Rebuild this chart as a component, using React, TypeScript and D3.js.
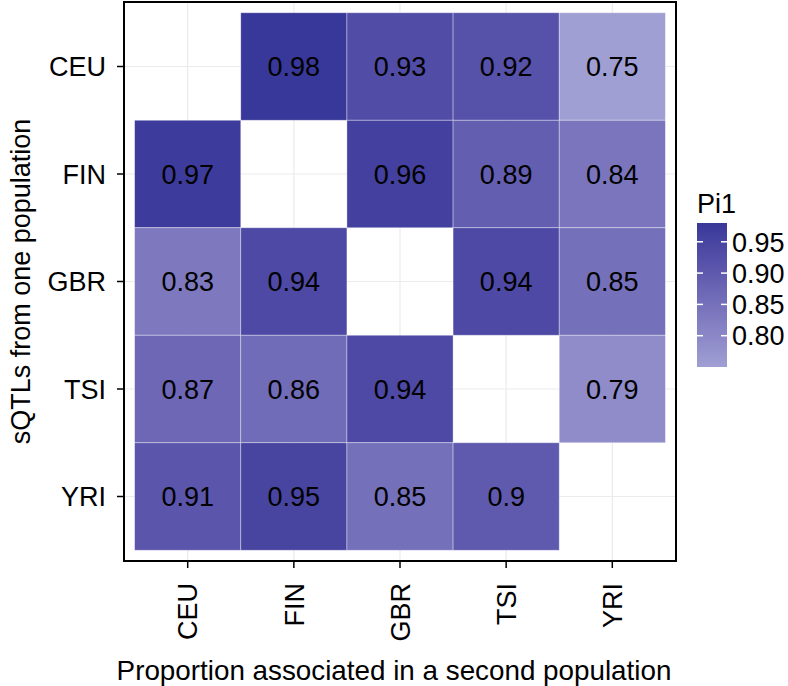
import React from 'react';
import * as d3 from 'd3';

const rows = ['CEU', 'FIN', 'GBR', 'TSI', 'YRI'];
const cols = ['CEU', 'FIN', 'GBR', 'TSI', 'YRI'];
// pi1 values: row = population where sQTL found, col = second population
const pi1: (number | null)[][] = [
  [null, 0.98, 0.93, 0.92, 0.75],
  [0.97, null, 0.96, 0.89, 0.84],
  [0.83, 0.94, null, 0.94, 0.85],
  [0.87, 0.86, 0.94, null, 0.79],
  [0.91, 0.95, 0.85, 0.9, null],
];
const legendTicks = [0.8, 0.85, 0.9, 0.95];
const fillRange: [number, number] = [0.75, 0.98];

const W = 788;
const H = 686;
const FONT = '"Liberation Sans", Arial, Helvetica, sans-serif';
const FS = 27;

const App: React.FC = () => {
  const panel = { left: 124, right: 676, top: 2, bottom: 561 };

  const x = d3.scaleBand<string>().domain(cols).range([panel.left, panel.right]).paddingInner(0).paddingOuter(0.1);
  const y = d3.scaleBand<string>().domain(rows).range([panel.top, panel.bottom]).paddingInner(0).paddingOuter(0.1);

  const color = d3.scaleLinear<string>()
    .domain(fillRange)
    .range(['#a09fd3', '#38389a'])
    .interpolate(d3.interpolateLab);

  const cells = pi1.flatMap((r, i) =>
    r.map((v, j) => ({ row: rows[i], col: cols[j], v })).filter((c) => c.v !== null)
  ) as { row: string; col: string; v: number }[];

  // legend
  const leg = { x: 697, top: 223, bottom: 367, width: 30 };
  const ly = d3.scaleLinear().domain(fillRange).range([leg.bottom, leg.top]);
  const stops = d3.range(0, 1.0001, 0.1);

  return (
    <svg width={W} height={H} style={{ position: 'absolute', left: 0, top: 0 }} fontFamily={FONT}>
      <defs>
        <linearGradient id="pi1grad" x1="0" y1="1" x2="0" y2="0">
          {stops.map((t) => (
            <stop key={t} offset={t} stopColor={color(fillRange[0] + t * (fillRange[1] - fillRange[0]))} />
          ))}
        </linearGradient>
      </defs>
      <rect x={0} y={0} width={W} height={H} fill="#fff" />

      {/* grid */}
      {cols.map((c) => (
        <line key={'gx' + c} x1={x(c)! + x.bandwidth() / 2} x2={x(c)! + x.bandwidth() / 2}
          y1={panel.top} y2={panel.bottom} stroke="#ebebeb" strokeWidth={1.2} />
      ))}
      {rows.map((r) => (
        <line key={'gy' + r} y1={y(r)! + y.bandwidth() / 2} y2={y(r)! + y.bandwidth() / 2}
          x1={panel.left} x2={panel.right} stroke="#ebebeb" strokeWidth={1.2} />
      ))}

      {/* tiles */}
      {cells.map((c) => (
        <g key={c.row + c.col}>
          <rect x={x(c.col)} y={y(c.row)} width={x.bandwidth()} height={y.bandwidth()}
            fill={color(c.v)} stroke="#ffffff" strokeOpacity={0.45} strokeWidth={0.8} />
          <text x={x(c.col)! + x.bandwidth() / 2} y={y(c.row)! + y.bandwidth() / 2}
            dy="0.36em" textAnchor="middle" fontSize={FS} fill="#000">{String(c.v)}</text>
        </g>
      ))}

      {/* panel border */}
      <rect x={panel.left} y={panel.top} width={panel.right - panel.left} height={panel.bottom - panel.top}
        fill="none" stroke="#000" strokeWidth={2} />

      {/* y axis */}
      {rows.map((r) => {
        const cy = y(r)! + y.bandwidth() / 2;
        return (
          <g key={'ty' + r}>
            <line x1={panel.left - 7} x2={panel.left} y1={cy} y2={cy} stroke="#000" strokeWidth={1.5} />
            <text x={panel.left - 18} y={cy} dy="0.36em" textAnchor="end" fontSize={FS} fill="#000">{r}</text>
          </g>
        );
      })}
      <text transform={`translate(30,${(panel.top + panel.bottom) / 2}) rotate(-90)`} textAnchor="middle"
        fontSize={FS} fill="#000">sQTLs from one population</text>

      {/* x axis */}
      {cols.map((c) => {
        const cx = x(c)! + x.bandwidth() / 2;
        return (
          <g key={'tx' + c}>
            <line x1={cx} x2={cx} y1={panel.bottom} y2={panel.bottom + 7} stroke="#000" strokeWidth={1.5} />
            <text transform={`translate(${cx},${panel.bottom + 22}) rotate(-90)`} dy="0.36em" textAnchor="end"
              fontSize={FS} fill="#000">{c}</text>
          </g>
        );
      })}
      <text x={(panel.left + panel.right) / 2 - 6} y={680} textAnchor="middle" fontSize={27.8} fill="#000">
        Proportion associated in a second population
      </text>

      {/* legend */}
      <text x={leg.x} y={213} fontSize={FS} fill="#000">Pi1</text>
      <rect x={leg.x} y={leg.top} width={leg.width} height={leg.bottom - leg.top} fill="url(#pi1grad)" />
      {legendTicks.map((t) => (
        <g key={'lt' + t}>
          <line x1={leg.x} x2={leg.x + 6} y1={ly(t)} y2={ly(t)} stroke="#fff" strokeWidth={1.5} />
          <line x1={leg.x + leg.width - 6} x2={leg.x + leg.width} y1={ly(t)} y2={ly(t)} stroke="#fff" strokeWidth={1.5} />
          <text x={leg.x + leg.width + 5} y={ly(t)} dy="0.36em" fontSize={FS} fill="#000">{d3.format('.2f')(t)}</text>
        </g>
      ))}
    </svg>
  );
};

export default App;
